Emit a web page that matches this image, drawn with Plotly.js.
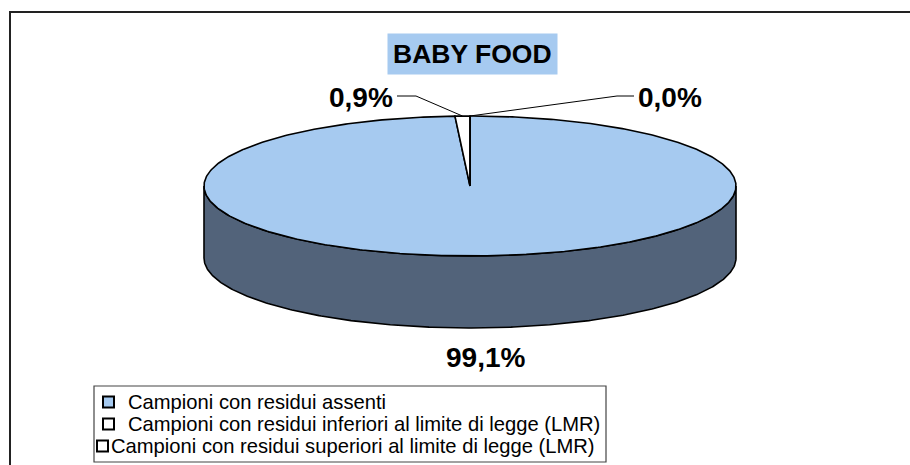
<!DOCTYPE html>
<html>
<head>
<meta charset="utf-8">
<script src="https://cdn.plot.ly/plotly-3.0.1.min.js"></script>
<style>
  html, body { margin: 0; padding: 0; background: #ffffff; }
  #chart { width: 910px; height: 465px; }
</style>
</head>
<body>
<div id="chart"></div>
<script>
// ---- data ----
const chartTitle = 'BABY FOOD';
const categories = [
  'Campioni con residui assenti',
  'Campioni con residui inferiori al limite di legge (LMR)',
  'Campioni con residui superiori al limite di legge (LMR)'
];
const values = [99.1, 0.9, 0.0];
const valueLabels = ['99,1%', '0,9%', '0,0%'];

// ---- style ----
const topColors  = ['#A6CAF0', '#FFFFFF', '#FFFFFF'];
const sideColors = ['#52637A', '#B0B0B0', '#B0B0B0'];
const FONT = 'Liberation Sans, Arial, Helvetica, sans-serif';

// pie geometry (pixel space)
const CX = 470, CY = 186, RA = 266, RB = 70, DEPTH = 72;
// label placement: [x, y, xanchor, elbowX or null]
const labelPlace = [
  [485, 357, 'center', null],
  [395, 97, 'right', 416],
  [636, 97, 'left', 617]
];

const total = values.reduce((s, v) => s + v, 0);
const TAU = Math.PI * 2;
function ex(t) { return CX + RA * Math.sin(t); }
function ey(t, d) { return CY - RB * Math.cos(t) + (d || 0); }
function arc(t0, t1, d) {
  const n = Math.max(2, Math.ceil(Math.abs(t1 - t0) / 0.01));
  const xs = [], ys = [];
  for (let k = 0; k <= n; k++) {
    const t = t0 + (t1 - t0) * k / n;
    xs.push(ex(t)); ys.push(ey(t, d));
  }
  return [xs, ys];
}

const traces = [];
const starts = [];
let acc = 0;
values.forEach(v => { starts.push(acc); acc += v; });

// sides (front half only: t in [PI/2, 3PI/2])
values.forEach((v, i) => {
  const t0 = starts[i] / total * TAU, t1 = (starts[i] + v) / total * TAU;
  const lo = Math.max(t0, Math.PI / 2), hi = Math.min(t1, Math.PI * 1.5);
  if (hi > lo) {
    const [ax, ay] = arc(lo, hi, 0);
    const [bx, by] = arc(hi, lo, DEPTH);
    traces.push({
      type: 'scatter', mode: 'lines', x: ax.concat(bx, [ax[0]]), y: ay.concat(by, [ay[0]]),
      fill: 'toself', fillcolor: sideColors[i],
      line: { color: '#000000', width: 1.6 }, hoverinfo: 'skip', showlegend: false
    });
  }
});

// top faces
values.forEach((v, i) => {
  const t0 = starts[i] / total * TAU, t1 = (starts[i] + v) / total * TAU;
  const [ax, ay] = arc(t0, t1, 0);
  traces.push({
    type: 'scatter', mode: 'lines', x: [CX].concat(ax, [CX]), y: [CY].concat(ay, [CY]),
    fill: 'toself', fillcolor: topColors[i],
    line: { color: '#000000', width: 1.6 }, name: categories[i],
    hoverinfo: 'name', showlegend: false
  });
});

// leader lines and value labels
const annotations = [];
values.forEach((v, i) => {
  const p = labelPlace[i];
  if (p[3] !== null) {
    const tm = (starts[i] + v / 2) / total * TAU;
    traces.push({
      type: 'scatter', mode: 'lines',
      x: [ex(tm), p[3], p[2] === 'right' ? p[0] + 2 : p[0] - 2],
      y: [ey(tm, 0), p[1] - 1, p[1] - 1],
      line: { color: '#000000', width: 1 }, hoverinfo: 'skip', showlegend: false
    });
  }
  annotations.push({
    x: p[0], y: p[1], xref: 'x', yref: 'y', xanchor: p[2], yanchor: 'middle',
    text: '<b>' + valueLabels[i] + '</b>', showarrow: false,
    font: { family: FONT, size: 28, color: '#000000' }
  });
});

// title
annotations.push({
  x: 472, y: 53.5, xref: 'x', yref: 'y', xanchor: 'center', yanchor: 'middle',
  text: '<b>' + chartTitle + '</b>', showarrow: false,
  bgcolor: '#A6CAF0', borderpad: 5,
  font: { family: FONT, size: 26.5, color: '#000000' }
});

// legend (manual, to match the original's compact rows)
const legRowY = [402, 424, 446];
const legBoxX = [103, 103, 97];
const legTextX = [126, 126, 109];
const shapes = [];
categories.forEach((c, i) => {
  shapes.push({
    type: 'rect', xref: 'x', yref: 'y',
    x0: legBoxX[i], x1: legBoxX[i] + 11, y0: legRowY[i] - 5.5, y1: legRowY[i] + 5.5,
    fillcolor: topColors[i], line: { color: '#000000', width: 2 }
  });
  annotations.push({
    x: legTextX[i], y: legRowY[i], xref: 'x', yref: 'y', xanchor: 'left', yanchor: 'middle',
    text: c, showarrow: false, font: { family: FONT, size: 20.2, color: '#000000' }
  });
});
// legend frame
shapes.unshift({
  type: 'rect', xref: 'x', yref: 'y', x0: 94, x1: 606, y0: 386, y1: 462,
  fillcolor: '#FFFFFF', line: { color: '#444444', width: 1.2 }, layer: 'below'
});
// outer chart frame
shapes.unshift({
  type: 'rect', xref: 'x', yref: 'y', x0: 10, x1: 920, y0: 12, y1: 475,
  fillcolor: 'rgba(0,0,0,0)', line: { color: '#222222', width: 2 }, layer: 'below'
});

const layout = {
  width: 910, height: 465,
  margin: { l: 0, r: 0, t: 0, b: 0, pad: 0 },
  paper_bgcolor: '#FFFFFF', plot_bgcolor: '#FFFFFF',
  showlegend: false,
  xaxis: { range: [0, 910], visible: false, fixedrange: true },
  yaxis: { range: [465, 0], visible: false, fixedrange: true },
  annotations: annotations,
  shapes: shapes,
  font: { family: FONT }
};

Plotly.newPlot('chart', traces, layout, { displayModeBar: false, staticPlot: true });
</script>
</body>
</html>
